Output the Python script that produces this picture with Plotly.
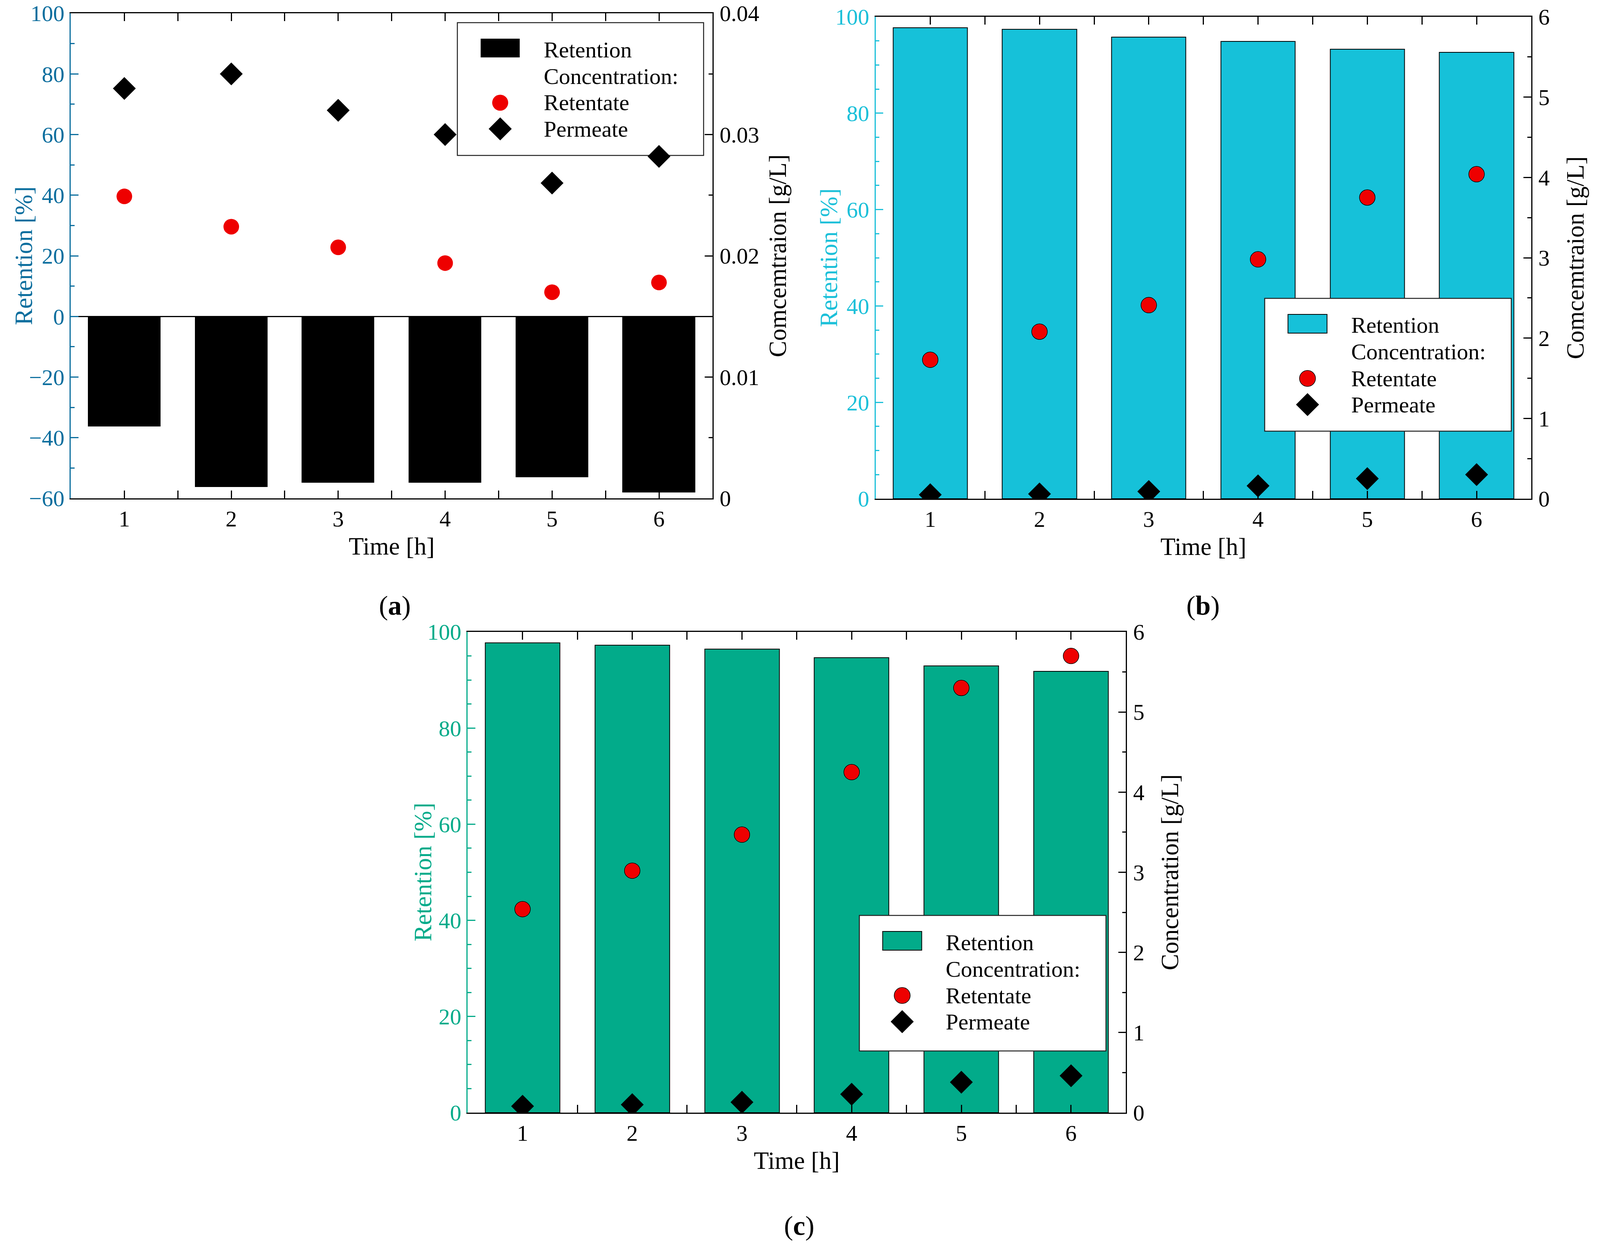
import plotly.graph_objects as go

# ---------------- data ----------------
time = [1, 2, 3, 4, 5, 6]

retention_a = [-36.3, -56.3, -54.9, -54.9, -53.0, -58.1]
retentate_a = [0.0249, 0.0224, 0.0207, 0.0194, 0.0170, 0.0178]
permeate_a = [0.0338, 0.0350, 0.0320, 0.0300, 0.0260, 0.0282]

retention_b = [97.7, 97.4, 95.8, 94.9, 93.3, 92.6]
retentate_b = [1.73, 2.08, 2.41, 2.98, 3.75, 4.04]
permeate_b = [0.05, 0.06, 0.09, 0.16, 0.25, 0.30]

retention_c = [97.7, 97.2, 96.4, 94.6, 92.9, 91.8]
retentate_c = [2.54, 3.02, 3.47, 4.25, 5.30, 5.70]
permeate_c = [0.08, 0.10, 0.13, 0.23, 0.38, 0.46]

legend_labels = ["Retention", "Concentration:", "Retentate", "Permeate"]
panel_labels = ["a", "b", "c"]
x_title = "Time [h]"
y_left_title = "Retention [%]"
y_right_titles = ["Comcemtraion [g/L]", "Comcemtraion [g/L]", "Concentration [g/L]"]

# ---------------- styling ----------------
REF_W, H = 4328, 3193      # layout measured on the reference (pixels)
W = 4090                   # figure width that fits the visible page
FONT = "Liberation Serif"
RED = "#EE0000"
TICK_SIZE = 58
TITLE_SIZE = 63
LEG_SIZE = 58


def fx(p):
    return p / REF_W


def fy(p):
    return 1 - p / H


def dx(p):
    return p / W


panels = [
    dict(L=192, R=1930, T=34, B=1276, color="#0B6E9E", bar="#000000", barline=0,
         mline=0, yl=[-60, 100], yld=20, ylm=10, yr=[0, 0.04], yrd=0.01, yrm=0.005,
         ret=retention_a, rtt=retentate_a, prm=permeate_a, zero=True,
         leg=(1239, 58, 1906, 398), leglayer="below", lab=(1070, 1550),
         ltx=65, rstand=26),
    dict(L=2372, R=4148, T=43, B=1277, color="#1CC0D9", bar="#16C1D9", barline=2,
         mline=1.5, yl=[0, 100], yld=20, ylm=5, yr=[0, 6], yrd=1, yrm=0.5,
         ret=retention_b, rtt=retentate_b, prm=permeate_b, zero=False,
         leg=(3426, 764, 4094, 1104), leglayer="above", lab=(3259, 1550),
         ltx=2246, rstand=44),
    dict(L=1267, R=3050, T=1618, B=2849, color="#03AB8A", bar="#02AB8A", barline=2,
         mline=1.5, yl=[0, 100], yld=20, ylm=5, yr=[0, 6], yrd=1, yrm=0.5,
         ret=retention_c, rtt=retentate_c, prm=permeate_c, zero=False,
         leg=(2328, 2344, 2996, 2691), leglayer="above", lab=(2165, 3138),
         ltx=1145, rstand=44),
]

fig = go.Figure()
layout = dict(
    width=W, height=H,
    autosize=False,
    margin=dict(l=0, r=0, t=0, b=0, pad=0),
    paper_bgcolor="white", plot_bgcolor="rgba(0,0,0,0)",
    font=dict(family=FONT, size=TICK_SIZE, color="black"),
    showlegend=False,
    bargap=0,
)
shapes = []
annotations = []

for i, p in enumerate(panels):
    xa = "x" if i == 0 else f"x{i+1}"
    yl = "y" if i == 0 else f"y{2*i+1}"
    yr = f"y{2*i+2}"
    xkey = "xaxis" if i == 0 else f"xaxis{i+1}"
    ylkey = "yaxis" if i == 0 else f"yaxis{2*i+1}"
    yrkey = f"yaxis{2*i+2}"

    fig.add_trace(go.Bar(
        x=time, y=p["ret"], width=0.68, xaxis=xa, yaxis=yl,
        marker=dict(color=p["bar"], line=dict(color="black", width=p["barline"])),
        name=legend_labels[0]))
    fig.add_trace(go.Scatter(
        x=time, y=p["rtt"], mode="markers", xaxis=xa, yaxis=yr,
        marker=dict(symbol="circle", size=40, color=RED,
                    line=dict(color="black", width=p["mline"])),
        name=legend_labels[2]))
    fig.add_trace(go.Scatter(
        x=time, y=p["prm"], mode="markers", xaxis=xa, yaxis=yr,
        marker=dict(symbol="diamond", size=45, color="black",
                    line=dict(color="black", width=0)),
        name=legend_labels[3]))

    layout[xkey] = dict(
        domain=[fx(p["L"]), fx(p["R"])], anchor=yl, range=[0.5, 6.5],
        tickmode="linear", tick0=1, dtick=1,
        ticks="inside", ticklen=20, tickwidth=2.5, tickcolor="black",
        minor=dict(dtick=0.5, tick0=1, ticks="inside", ticklen=20, tickwidth=2.5,
                   tickcolor="black", showgrid=False),
        showline=True, linecolor="black", linewidth=2.5, mirror="ticks",
        showgrid=False, zeroline=False, automargin=False,
        tickfont=dict(family=FONT, size=TICK_SIZE, color="black"),
        ticklabelstandoff=0,
        title=dict(text=x_title, font=dict(family=FONT, size=TITLE_SIZE, color="black"), standoff=16),
    )
    layout[ylkey] = dict(
        domain=[fy(p["B"]), fy(p["T"])], anchor=xa, range=p["yl"],
        tickmode="linear", tick0=0, dtick=p["yld"],
        ticks="inside", ticklen=20, tickwidth=2.5, tickcolor=p["color"],
        minor=dict(dtick=p["ylm"], ticks="inside", ticklen=10, tickwidth=2.5,
                   tickcolor=p["color"], showgrid=False),
        showline=True, linecolor=p["color"], linewidth=2.5,
        showgrid=False, zeroline=p["zero"], zerolinecolor="black", zerolinewidth=2.5,
        automargin=False,
        tickfont=dict(family=FONT, size=TICK_SIZE, color=p["color"]),
        ticklabelstandoff=2,
    )
    layout[yrkey] = dict(
        domain=[fy(p["B"]), fy(p["T"])], anchor=xa, overlaying=yl, side="right",
        range=p["yr"], tickmode="linear", tick0=0, dtick=p["yrd"],
        ticks="inside", ticklen=20, tickwidth=2.5, tickcolor="black",
        minor=dict(dtick=p["yrm"], ticks="inside", ticklen=10, tickwidth=2.5,
                   tickcolor="black", showgrid=False),
        showline=True, linecolor="black", linewidth=2.5,
        showgrid=False, zeroline=False, automargin=False,
        tickfont=dict(family=FONT, size=TICK_SIZE, color="black"),
        ticklabelstandoff=4,
        title=dict(text=y_right_titles[i], font=dict(family=FONT, size=TITLE_SIZE, color="black"),
                   standoff=p["rstand"]),
    )

    # left axis title (placed close to the tick labels, as in the original)
    annotations.append(dict(text=y_left_title, xref="paper", yref="paper",
                            x=fx(p["ltx"]), y=fy((p["T"] + p["B"]) / 2),
                            xanchor="center", yanchor="middle", textangle=-90, showarrow=False,
                            font=dict(family=FONT, size=TITLE_SIZE, color=p["color"])))

    # ---- legend box (drawn to keep the large symbols of the original) ----
    L, T, R, B = p["leg"]
    lay = p["leglayer"]
    shapes.append(dict(type="rect", xref="paper", yref="paper",
                       x0=fx(L), x1=fx(R), y0=fy(B), y1=fy(T),
                       line=dict(color="#222222", width=2.5), fillcolor="white", layer=lay))
    rows = [T + 69, T + 137, T + 205, T + 272]
    sx = fx(L + 116)
    shapes.append(dict(type="rect", xref="paper", yref="paper",
                       x0=sx - dx(50), x1=sx + dx(50), y0=fy(rows[0] + 20), y1=fy(rows[0] - 28),
                       line=dict(color="black", width=p["barline"]),
                       fillcolor=p["bar"], layer=lay))
    shapes.append(dict(type="circle", xref="paper", yref="paper",
                       x0=sx - dx(20.5), x1=sx + dx(20.5), y0=fy(rows[2] + 20.5), y1=fy(rows[2] - 20.5),
                       line=dict(color="black", width=p["mline"]),
                       fillcolor=RED, layer=lay))
    d = 29.5
    path = (f"M {sx - dx(d)} {fy(rows[3])} L {sx} {fy(rows[3] - d)} "
            f"L {sx + dx(d)} {fy(rows[3])} L {sx} {fy(rows[3] + d)} Z")
    shapes.append(dict(type="path", xref="paper", yref="paper", path=path,
                       line=dict(width=0), fillcolor="black", layer=lay))
    for lab, ry in zip(legend_labels, rows):
        annotations.append(dict(text=lab, xref="paper", yref="paper",
                                x=fx(L + 232), y=fy(ry), xanchor="left", yanchor="middle",
                                showarrow=False, font=dict(family=FONT, size=LEG_SIZE, color="black")))

    # ---- panel label ----
    lx, ly = p["lab"]
    annotations.append(dict(text=f"(<b>{panel_labels[i]}</b>)", xref="paper", yref="paper",
                            x=fx(lx), y=fy(ly), xanchor="center", yanchor="middle",
                            showarrow=False, font=dict(family=FONT, size=70, color="black")))

layout["shapes"] = shapes
layout["annotations"] = annotations
fig.update_layout(**layout)

fig.write_html("out.html", config={"displayModeBar": False, "responsive": False},
               post_script="document.body.style.margin='0';document.body.style.overflow='hidden';")
